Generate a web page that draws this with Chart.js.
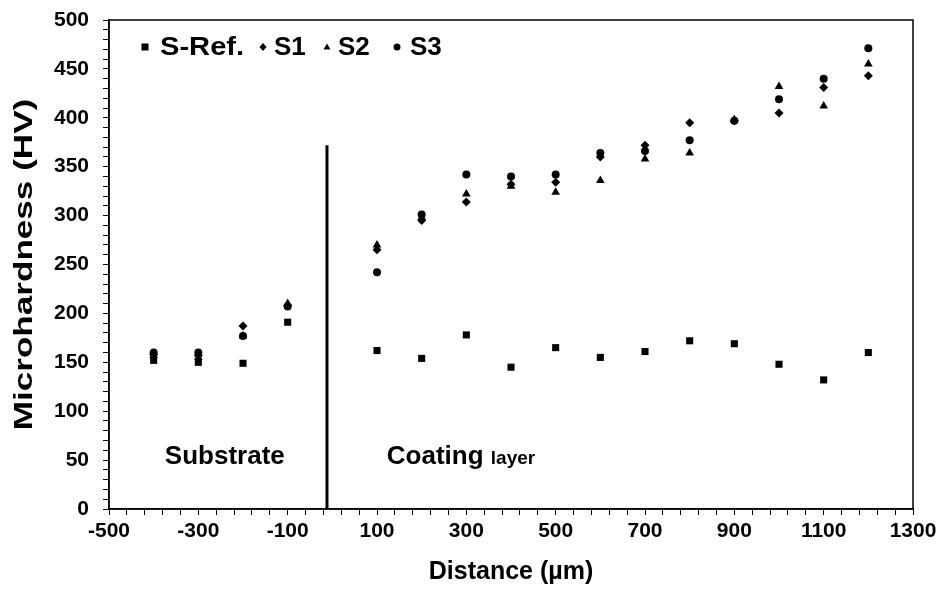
<!DOCTYPE html>
<html>
<head>
<meta charset="utf-8">
<script src="https://cdn.jsdelivr.net/npm/chart.js@4.4.0/dist/chart.umd.min.js"></script>
<style>
  html, body { margin: 0; padding: 0; background: #fff; }
  #wrap { width: 944px; height: 589px; }
</style>
</head>
<body>
<div id="wrap"><canvas id="chart"></canvas></div>
<script>
// measurement positions (µm from the interface)
const distances = [-400, -300, -200, -100, 100, 200, 300, 400, 500, 600, 700, 800, 900, 1000, 1100, 1200];

// microhardness (HV) per sample
const sRef = [152, 150, 149, 191, 162, 154, 178, 145, 165, 155, 161, 172, 169, 148, 132, 160];
const s1 = [158, 157, 187, 208, 265, 295, 314, 332, 334, 360, 372, 395, 397, 405, 431, 443];
const s2 = [157, 155, 177, 210, 270, 298, 322, 330, 324, 336, 358, 364, 398, 432, 412, 455];
const s3 = [160, 160, 177, 207, 242, 301, 342, 340, 342, 364, 366, 377, 397, 419, 440, 471];

const seriesNames = ['S-Ref.', 'S1', 'S2', 'S3'];
const xTickLabels = [-500, -300, -100, 100, 300, 500, 700, 900, 1100, 1300];
const yTickLabels = [0, 50, 100, 150, 200, 250, 300, 350, 400, 450, 500];

// substrate / coating boundary
const interfaceX = -12;
const interfaceTop = 372;
const regionLabels = [
  { text: 'Substrate', x: -375, y: 53 },
  { text: 'Coating', small: 'layer', x: 122, y: 53 }
];

const FONT = '"Liberation Sans", Arial, sans-serif';
const styles = ['rect', 'rectRot', 'triangle', 'circle'];
const radii = [5, 4.5, 5, 4];
const legendMarkX = [145, 263, 327, 397];
const legendTextX = [160, 274, 338, 410];

const toPoints = vals => vals.map((v, i) => ({ x: distances[i], y: v }));

const datasets = [sRef, s1, s2, s3].map((vals, i) => ({
  label: seriesNames[i],
  data: toPoints(vals),
  pointStyle: styles[i],
  pointRadius: radii[i],
  pointHoverRadius: radii[i],
  backgroundColor: '#000',
  borderColor: '#000',
  borderWidth: 0,
  showLine: false
}));

datasets.push({
  label: 'interface',
  data: [{ x: interfaceX, y: 0 }, { x: interfaceX, y: interfaceTop }],
  showLine: true,
  borderColor: '#000',
  borderWidth: 3,
  pointRadius: 0
});

// frame, y title, legend inside the plot and the region captions
const extras = {
  id: 'extras',
  afterDraw(chart) {
    const { ctx, chartArea: a, scales: { x, y } } = chart;
    ctx.save();
    ctx.strokeStyle = '#000';
    ctx.lineWidth = 1.5;
    ctx.strokeRect(a.left, a.top, a.right - a.left, a.bottom - a.top);

    // y axis title, drawn a bit stretched like the source figure
    ctx.save();
    ctx.translate(25, (a.top + a.bottom) / 2);
    ctx.rotate(-Math.PI / 2);
    ctx.scale(1.35, 1);
    ctx.font = 'bold 26px ' + FONT;
    ctx.fillStyle = '#000';
    ctx.textAlign = 'center';
    ctx.textBaseline = 'middle';
    ctx.fillText('Microhardness (HV)', 0, 0);
    ctx.restore();

    // legend
    ctx.fillStyle = '#000';
    ctx.font = 'bold 26px ' + FONT;
    ctx.textBaseline = 'middle';
    const ly = 47;
    seriesNames.forEach((name, i) => {
      drawMarker(ctx, styles[i], legendMarkX[i], ly, 3.5);
      ctx.save();
      ctx.translate(legendTextX[i], ly + 1);
      ctx.scale(name.length > 2 ? 1.12 : 1, 1);
      ctx.fillText(name, 0, 0);
      ctx.restore();
    });

    // region captions
    regionLabels.forEach(r => {
      const px = x.getPixelForValue(r.x);
      const py = y.getPixelForValue(r.y);
      ctx.font = 'bold 26px ' + FONT;
      ctx.textAlign = 'left';
      ctx.fillText(r.text, px, py);
      if (r.small) {
        const w = ctx.measureText(r.text + ' ').width;
        ctx.font = 'bold 19px ' + FONT;
        ctx.fillText(r.small, px + w, py + 2);
      }
    });
    ctx.restore();
  }
};

function drawMarker(ctx, style, cx, cy, r) {
  ctx.beginPath();
  if (style === 'rect') {
    ctx.rect(cx - r, cy - r, 2 * r, 2 * r);
  } else if (style === 'rectRot') {
    ctx.moveTo(cx, cy - r - 0.5);
    ctx.lineTo(cx + r, cy);
    ctx.lineTo(cx, cy + r + 0.5);
    ctx.lineTo(cx - r, cy);
  } else if (style === 'triangle') {
    ctx.moveTo(cx, cy - r);
    ctx.lineTo(cx + r, cy + r * 0.7);
    ctx.lineTo(cx - r, cy + r * 0.7);
  } else {
    ctx.arc(cx, cy, r, 0, Math.PI * 2);
  }
  ctx.closePath();
  ctx.fill();
}

new Chart(document.getElementById('chart'), {
  type: 'scatter',
  data: { datasets },
  options: {
    responsive: true,
    maintainAspectRatio: false,
    animation: false,
    layout: { padding: { top: 20, right: 31, left: 0, bottom: 0 } },
    plugins: {
      legend: { display: false },
      tooltip: { enabled: false }
    },
    scales: {
      x: {
        type: 'linear',
        min: -500,
        max: 1300,
        afterBuildTicks: scale => {
          const t = [];
          for (let v = -500; v <= 1300; v += 40) t.push({ value: v });
          scale.ticks = t;
        },
        afterFit: scale => {
          scale.height = 80;
          scale.paddingLeft = 0;
          scale.paddingRight = 0;
        },
        ticks: {
          autoSkip: false,
          maxRotation: 0,
          padding: 4,
          color: '#000',
          font: { family: FONT, size: 21, weight: 'bold' },
          callback: v => (xTickLabels.includes(v) ? String(v) : '')
        },
        grid: { drawOnChartArea: false, drawTicks: true, tickLength: 6, color: '#000', tickWidth: 1 },
        border: { display: true, color: '#000', width: 1.5 },
        title: {
          display: true,
          text: 'Distance (µm)',
          color: '#000',
          font: { family: FONT, size: 25, weight: 'bold' },
          padding: { top: 0, bottom: 2 }
        }
      },
      y: {
        type: 'linear',
        min: 0,
        max: 500,
        afterBuildTicks: scale => {
          const t = [];
          for (let v = 0; v <= 500; v += 10) t.push({ value: v });
          scale.ticks = t;
        },
        afterFit: scale => {
          scale.width = 109;
          scale.paddingTop = 0;
          scale.paddingBottom = 0;
        },
        ticks: {
          autoSkip: false,
          padding: 14,
          color: '#000',
          font: { family: FONT, size: 21, weight: 'bold' },
          callback: v => (yTickLabels.includes(v) ? String(v) : '')
        },
        grid: { drawOnChartArea: false, drawTicks: true, tickLength: 6, color: '#000', tickWidth: 1 },
        border: { display: true, color: '#000', width: 1.5 },
        title: { display: false }
      }
    }
  },
  plugins: [extras]
});
</script>
</body>
</html>
